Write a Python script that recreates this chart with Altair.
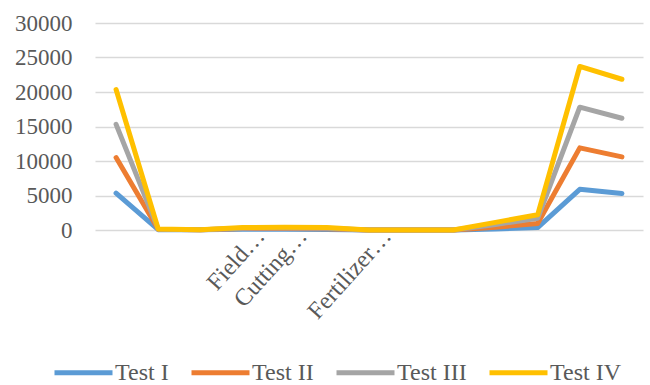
import altair as alt
import pandas as pd

categories = [f"C{i:02d}" for i in range(13)]
tick_labels = ["", "", "", "Field…", "Cutting…", "", "Fertilizer…", "", "", "", "", "", ""]
series = ["Test I", "Test II", "Test III", "Test IV"]
test_1 = [5350, 50, 20, 100, 100, 90, 0, 0, 0, 150, 350, 5900, 5300]
test_2 = [10500, 100, 30, 200, 200, 180, 0, 0, 0, 400, 950, 11900, 10600]
test_3 = [15300, 120, 40, 270, 300, 270, 0, 0, 0, 800, 1700, 17800, 16200]
test_4 = [20350, 150, 50, 350, 400, 350, 0, 0, 0, 1100, 2200, 23700, 21850]
colors = ["#5B9BD5", "#ED7D31", "#A5A5A5", "#FFC000"]

rows = []
for name, vals in zip(series, [test_1, test_2, test_3, test_4]):
    for c, v in zip(categories, vals):
        rows.append({"cat": c, "series": name, "value": v})
df = pd.DataFrame(rows)

label_map = " : ".join(
    f"datum.value == '{c}' ? '{t}'" for c, t in zip(categories, tick_labels) if t
) + " : ''"

FONT = "Liberation Serif"
GREY = "#595959"

chart = alt.Chart(df).mark_line(
    strokeWidth=5, strokeJoin="round", strokeCap="round"
).encode(
    x=alt.X("cat:O", sort=categories, scale=alt.Scale(padding=0.5),
            axis=alt.Axis(title=None, labelExpr=label_map, labelAngle=-48,
                          labelAlign="right", labelBaseline="top",
                          labelOffset=9, labelPadding=-6, domain=False,
                          ticks=False, grid=False, labelFont=FONT,
                          labelFontSize=24, labelColor=GREY, labelOverlap=False)),
    y=alt.Y("value:Q", scale=alt.Scale(domain=[0, 30000], nice=False),
            axis=alt.Axis(title=None, values=[0, 5000, 10000, 15000, 20000, 25000, 30000],
                          format="d",
                          domain=False, ticks=False, gridColor="#d9d9d9", gridWidth=1.3,
                          labelFont=FONT, labelFontSize=23, labelColor=GREY,
                          labelPadding=23)),
    color=alt.Color("series:N", scale=alt.Scale(domain=series, range=colors),
                    legend=alt.Legend(title=None, orient="none", direction="horizontal",
                                      legendX=-43, legendY=318, symbolType="stroke",
                                      symbolSize=3364, symbolStrokeWidth=5,
                                      labelFont=FONT, labelFontSize=24, labelColor=GREY,
                                      labelOffset=0, columnPadding=12, padding=0)),
).properties(
    width=548, height=207,
    padding={"left": 95, "top": 23, "right": 7, "bottom": 155},
    autosize=alt.AutoSizeParams(type="none"),
).configure_view(stroke=None)

chart.save("out.html", embed_options={"renderer": "svg", "actions": False})
